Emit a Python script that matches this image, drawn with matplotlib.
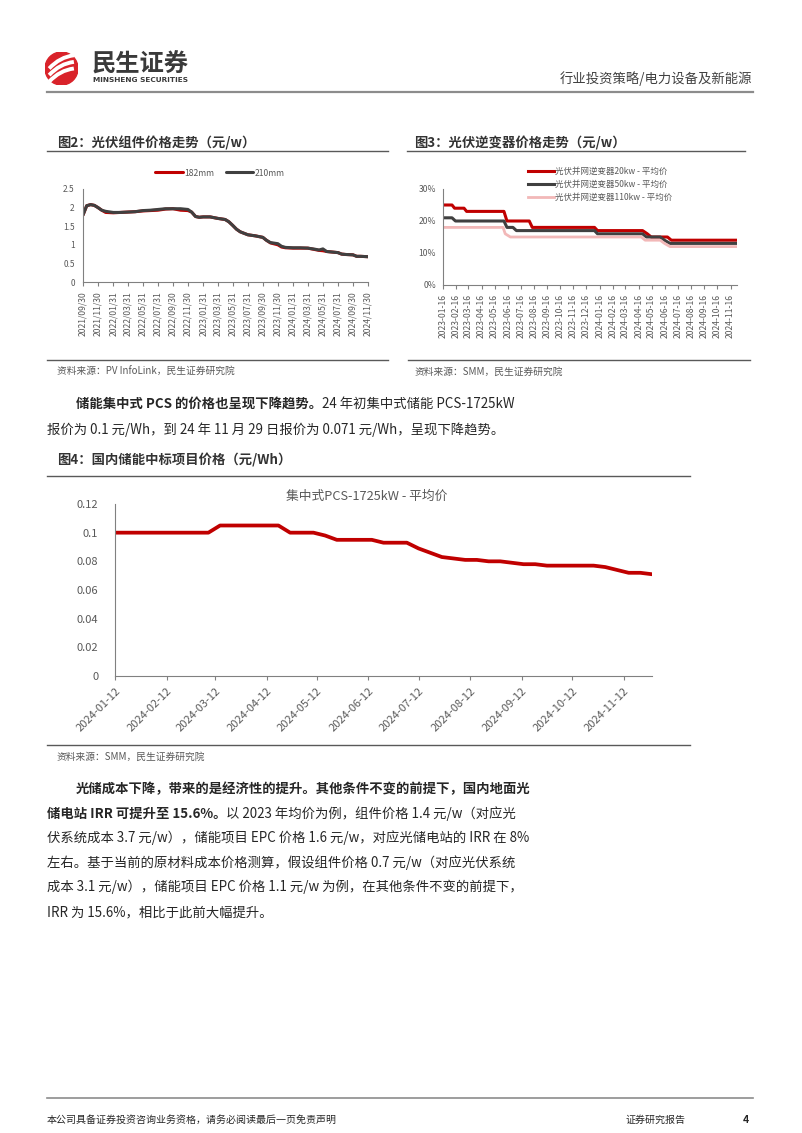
import pandas as pd
import matplotlib
matplotlib.use('Agg')
import matplotlib.pyplot as plt
from matplotlib.patches import Ellipse, PathPatch
from matplotlib.path import Path

plt.rcParams['font.family'] = ['Noto Sans CJK SC', 'DejaVu Sans']
plt.rcParams['axes.unicode_minus'] = False

W, H = 802, 1133
GRAY = '#595959'
RED = '#C00000'
DARK = '#404040'
PINK = '#F2B8B8'
TXT = '#262626'

# ---------------- data: 图2 光伏组件价格 (元/w) ----------------
module_dates = ['2021-09-30', '2021-10-15', '2021-10-31', '2021-11-15', '2021-11-30', '2021-12-15',
                '2021-12-31', '2022-01-31', '2022-02-28', '2022-03-31', '2022-04-30', '2022-05-31',
                '2022-06-30', '2022-07-31', '2022-08-31', '2022-09-30', '2022-10-31', '2022-11-30',
                '2022-12-15', '2022-12-31', '2023-01-15', '2023-01-31', '2023-02-28', '2023-03-31',
                '2023-04-30', '2023-05-15', '2023-05-31', '2023-06-15', '2023-06-30', '2023-07-31',
                '2023-08-31', '2023-09-30', '2023-10-15', '2023-10-31', '2023-11-30', '2023-12-15',
                '2023-12-31', '2024-01-31', '2024-02-29', '2024-03-31', '2024-04-30', '2024-05-15',
                '2024-05-31', '2024-06-15', '2024-06-30', '2024-07-31', '2024-08-15', '2024-08-31',
                '2024-09-30', '2024-10-15', '2024-10-31', '2024-11-30']
price_182 = [1.80, 2.05, 2.08, 2.06, 2.00, 1.93, 1.87, 1.86, 1.87, 1.88, 1.89, 1.91,
             1.92, 1.93, 1.96, 1.97, 1.93, 1.92, 1.88, 1.76, 1.74, 1.75, 1.75, 1.71,
             1.68, 1.62, 1.52, 1.42, 1.35, 1.27, 1.24, 1.20, 1.12, 1.05, 1.00, 0.94,
             0.92, 0.91, 0.91, 0.91, 0.87, 0.85, 0.84, 0.82, 0.81, 0.79, 0.75, 0.74,
             0.73, 0.69, 0.69, 0.68]
price_210 = [1.80, 2.05, 2.08, 2.06, 2.00, 1.93, 1.90, 1.87, 1.87, 1.88, 1.89, 1.92,
             1.93, 1.95, 1.97, 1.97, 1.97, 1.95, 1.88, 1.76, 1.74, 1.75, 1.75, 1.71,
             1.68, 1.62, 1.52, 1.42, 1.35, 1.27, 1.24, 1.20, 1.12, 1.06, 1.03, 0.96,
             0.93, 0.92, 0.92, 0.91, 0.88, 0.86, 0.89, 0.82, 0.81, 0.79, 0.75, 0.74,
             0.73, 0.69, 0.69, 0.68]
module_ticks = ['2021-09-30', '2021-11-30', '2022-01-31', '2022-03-31', '2022-05-31', '2022-07-31',
                '2022-09-30', '2022-11-30', '2023-01-31', '2023-03-31', '2023-05-31', '2023-07-31',
                '2023-09-30', '2023-11-30', '2024-01-31', '2024-03-31', '2024-05-31', '2024-07-31',
                '2024-09-30', '2024-11-30']

# ---------------- data: 图3 光伏逆变器价格 ----------------
inv20_dates = ['2023-01-16', '2023-02-06', '2023-02-12', '2023-03-06', '2023-03-12', '2023-06-07',
               '2023-06-14', '2023-08-05', '2023-08-12', '2024-01-04', '2024-01-11', '2024-04-25',
               '2024-05-06', '2024-05-15', '2024-06-22', '2024-07-01', '2024-12-01']
inv20_vals = [25, 25, 24, 24, 23, 23, 20, 20, 18, 18, 17, 17, 16, 15, 15, 14, 14]
inv50_dates = ['2023-01-16', '2023-02-06', '2023-02-14', '2023-06-07', '2023-06-14', '2023-06-28',
               '2023-07-06', '2024-01-04', '2024-01-11', '2024-04-25', '2024-05-04', '2024-06-05',
               '2024-06-15', '2024-06-28', '2024-12-01']
inv50_vals = [21, 21, 20, 20, 18, 18, 17, 17, 16, 16, 15, 15, 14, 13, 13]
inv110_dates = ['2023-01-16', '2023-06-05', '2023-06-10', '2023-06-22', '2024-04-22', '2024-05-01',
                '2024-06-05', '2024-06-15', '2024-06-28', '2024-12-01']
inv110_vals = [18, 18, 16, 15, 15, 14, 14, 13, 12, 12]
inv_labels = ['光伏并网逆变器20kw - 平均价', '光伏并网逆变器50kw - 平均价', '光伏并网逆变器110kw - 平均价']
inv_ticks = ['2023-01-16', '2023-02-16', '2023-03-16', '2023-04-16', '2023-05-16', '2023-06-16',
             '2023-07-16', '2023-08-16', '2023-09-16', '2023-10-16', '2023-11-16', '2023-12-16',
             '2024-01-16', '2024-02-16', '2024-03-16', '2024-04-16', '2024-05-16', '2024-06-16',
             '2024-07-16', '2024-08-16', '2024-09-16', '2024-10-16', '2024-11-16']

# ---------------- data: 图4 集中式PCS-1725kW 平均价 (元/Wh), weekly ----------------
pcs_dates = pd.date_range('2024-01-12', '2024-11-29', freq='7D')
pcs_vals = [0.100, 0.100, 0.100, 0.100, 0.100, 0.100, 0.100, 0.100, 0.100, 0.105,
            0.105, 0.105, 0.105, 0.105, 0.105, 0.100, 0.100, 0.100, 0.098, 0.095,
            0.095, 0.095, 0.095, 0.093, 0.093, 0.093, 0.089, 0.086, 0.083, 0.082,
            0.081, 0.081, 0.080, 0.080, 0.079, 0.078, 0.078, 0.077, 0.077, 0.077,
            0.077, 0.077, 0.076, 0.074, 0.072, 0.072, 0.071]
pcs_ticks = ['2024-01-12', '2024-02-12', '2024-03-12', '2024-04-12', '2024-05-12', '2024-06-12',
             '2024-07-12', '2024-08-12', '2024-09-12', '2024-10-12', '2024-11-12']

fig = plt.figure(figsize=(W / 100, H / 100), dpi=100)
fig.patch.set_facecolor('white')


def fx(x):
    return x / W


def fy(y):
    return 1 - y / H


def hline(x0, x1, y, color='#7f7f7f', lw=1.2):
    fig.add_artist(plt.Line2D([fx(x0), fx(x1)], [fy(y), fy(y)], color=color, lw=lw))


def axes_px(x0, y0, x1, y1):
    return fig.add_axes([fx(x0), fy(y1), fx(x1) - fx(x0), fy(y0) - fy(y1)])


def style(ax):
    for s in ['top', 'right']:
        ax.spines[s].set_visible(False)
    for s in ['left', 'bottom']:
        ax.spines[s].set_color('#808080')
        ax.spines[s].set_linewidth(0.8)
    ax.tick_params(axis='y', length=0, colors=GRAY)
    ax.tick_params(axis='x', length=3, width=0.8, color='#808080', colors=GRAY, direction='out')


renderer = fig.canvas.get_renderer()


def runs(x, y, parts, size=9.6, color=TXT):
    # place bold / normal pieces one after another on the same line
    for s, bold in parts:
        t = fig.text(fx(x), fy(y), s, fontsize=size, fontweight='bold' if bold else 'normal',
                     color=color, va='center', ha='left')
        x = t.get_window_extent(renderer).x1


# ---------------- header ----------------
logo = fig.add_axes([fx(45), fy(85), fx(33), 33 / H])
logo.set_xlim(-1, 1)
logo.set_ylim(-1, 1)
logo.axis('off')
logo.add_patch(Ellipse((0, 0), 2, 2, color='#D9232A'))
for dy in [-0.45, -0.05, 0.35]:
    p = Path([(-0.75, dy - 0.35), (-0.1, dy + 0.35), (0.75, dy + 0.45)],
             [Path.MOVETO, Path.CURVE3, Path.CURVE3])
    logo.add_patch(PathPatch(p, fc='none', ec='white', lw=2.8))
fig.text(fx(92), fy(65), '民生证券', fontsize=17.5, fontweight='bold', color='#3a3a3a', va='center')
fig.text(fx(93), fy(80), 'MINSHENG SECURITIES', fontsize=5.3, fontweight='bold', color='#3a3a3a',
         va='center', family=['DejaVu Sans'])
fig.text(fx(752), fy(79), '行业投资策略/电力设备及新能源', fontsize=9.6, color='#404040', va='center', ha='right')
hline(47, 753, 92, color='#8c8c8c', lw=1.6)

# ---------------- 图2 ----------------
runs(57, 143, [('图2：光伏组件价格走势（元/w）', True)], size=9.6, color='#333333')
hline(47, 388, 151, color='#595959', lw=1.0)
ax2 = axes_px(83, 189, 368, 282)
d2 = pd.to_datetime(module_dates)
ax2.plot(d2, price_182, color=RED, lw=2.2, label='182mm', solid_capstyle='round')
ax2.plot(d2, price_210, color=DARK, lw=2.2, label='210mm', solid_capstyle='round')
ax2.set_xlim(pd.Timestamp('2021-09-30'), pd.Timestamp('2024-11-30'))
ax2.set_ylim(0, 2.5)
ax2.set_yticks([0, 0.5, 1, 1.5, 2, 2.5])
ax2.set_yticklabels(['0', '0.5', '1', '1.5', '2', '2.5'], fontsize=6)
ax2.set_xticks(pd.to_datetime(module_ticks))
ax2.set_xticklabels([pd.Timestamp(t).strftime('%Y/%m/%d') for t in module_ticks], rotation=90, fontsize=6.2)
style(ax2)
ax2.tick_params(axis='y', pad=6)
ax2.legend(loc='center', bbox_to_anchor=(fx(220), fy(173)), bbox_transform=fig.transFigure, ncol=2,
           frameon=False, fontsize=6.2, handlelength=3.2, columnspacing=1.3, handletextpad=0.2,
           labelcolor=GRAY)

# ---------------- 图3 ----------------
runs(414, 143, [('图3：光伏逆变器价格走势（元/w）', True)], size=9.6, color='#333333')
hline(407, 745, 151, color='#595959', lw=1.0)
ax3 = axes_px(443, 189, 737, 285)
ax3.plot(pd.to_datetime(inv20_dates), inv20_vals, color=RED, lw=2.2, label=inv_labels[0])
ax3.plot(pd.to_datetime(inv50_dates), inv50_vals, color=DARK, lw=2.2, label=inv_labels[1])
ax3.plot(pd.to_datetime(inv110_dates), inv110_vals, color=PINK, lw=2.0, label=inv_labels[2])
ax3.set_xlim(pd.Timestamp('2023-01-16'), pd.Timestamp('2024-12-01'))
ax3.set_ylim(0, 30)
ax3.set_yticks([0, 10, 20, 30])
ax3.set_yticklabels(['0%', '10%', '20%', '30%'], fontsize=6.2)
ax3.set_xticks(pd.to_datetime(inv_ticks))
ax3.set_xticklabels(inv_ticks, rotation=90, fontsize=6.2)
style(ax3)
ax3.tick_params(axis='y', pad=5)
ax3.legend(loc='upper left', bbox_to_anchor=(fx(524), fy(163)), bbox_transform=fig.transFigure,
           frameon=False, fontsize=6.1, handlelength=3.0, handletextpad=0.2, labelspacing=0.45,
           labelcolor=GRAY, borderpad=0)

# ---------------- sources ----------------
hline(47, 388, 360, color='#595959', lw=1.0)
hline(408, 750, 360, color='#595959', lw=1.0)
fig.text(fx(57), fy(372), '资料来源：PV InfoLink，民生证券研究院', fontsize=7, color=GRAY, va='center')
fig.text(fx(415), fy(372), '资料来源：SMM，民生证券研究院', fontsize=7, color=GRAY, va='center')

# ---------------- paragraph 1 ----------------
runs(76, 404, [('储能集中式 PCS 的价格也呈现下降趋势。', True), ('24 年初集中式储能 PCS-1725kW', False)])
runs(47, 430, [('报价为 0.1 元/Wh，到 24 年 11 月 29 日报价为 0.071 元/Wh，呈现下降趋势。', False)])

# ---------------- 图4 ----------------
runs(57, 460, [('图4：国内储能中标项目价格（元/Wh）', True)], size=9.6, color='#333333')
hline(47, 690, 476, color='#595959', lw=1.0)
ax4 = axes_px(115, 504, 652, 676)
ax4.plot(pcs_dates, pcs_vals, color=RED, lw=2.7)
ax4.set_xlim(pd.Timestamp('2024-01-12'), pd.Timestamp('2024-11-29'))
ax4.set_ylim(0, 0.12)
ax4.set_yticks([0, 0.02, 0.04, 0.06, 0.08, 0.1, 0.12])
ax4.set_yticklabels(['0', '0.02', '0.04', '0.06', '0.08', '0.1', '0.12'], fontsize=8)
ax4.set_xticks(pd.to_datetime(pcs_ticks))
ax4.set_xticklabels(pcs_ticks, rotation=45, ha='right', rotation_mode='anchor', fontsize=8)
style(ax4)
ax4.tick_params(axis='y', pad=12)
ax4.tick_params(axis='x', pad=4)
fig.text(fx(367), fy(496), '集中式PCS-1725kW - 平均价', fontsize=9.2, color=GRAY, ha='center', va='center')
hline(47, 690, 745, color='#595959', lw=1.0)
fig.text(fx(57), fy(757), '资料来源：SMM，民生证券研究院', fontsize=7, color=GRAY, va='center')

# ---------------- paragraph 2 ----------------
runs(76, 789, [('光储成本下降，带来的是经济性的提升。其他条件不变的前提下，国内地面光', True)])
runs(47, 814, [('储电站 IRR 可提升至 15.6%。', True), ('以 2023 年均价为例，组件价格 1.4 元/w（对应光', False)])
runs(47, 838, [('伏系统成本 3.7 元/w），储能项目 EPC 价格 1.6 元/w，对应光储电站的 IRR 在 8%', False)])
runs(47, 863, [('左右。基于当前的原材料成本价格测算，假设组件价格 0.7 元/w（对应光伏系统', False)])
runs(47, 887, [('成本 3.1 元/w），储能项目 EPC 价格 1.1 元/w 为例，在其他条件不变的前提下，', False)])
runs(47, 912, [('IRR 为 15.6%，相比于此前大幅提升。', False)])

# ---------------- footer ----------------
hline(47, 753, 1098, color='#8c8c8c', lw=1.2)
fig.text(fx(47), fy(1120), '本公司具备证券投资咨询业务资格，请务必阅读最后一页免责声明', fontsize=7.2, color=TXT, va='center')
fig.text(fx(626), fy(1120), '证券研究报告', fontsize=7.2, color=TXT, va='center')
fig.text(fx(743), fy(1120), '4', fontsize=7.5, fontweight='bold', color=TXT, va='center')

fig.savefig('out.png', dpi=100)
